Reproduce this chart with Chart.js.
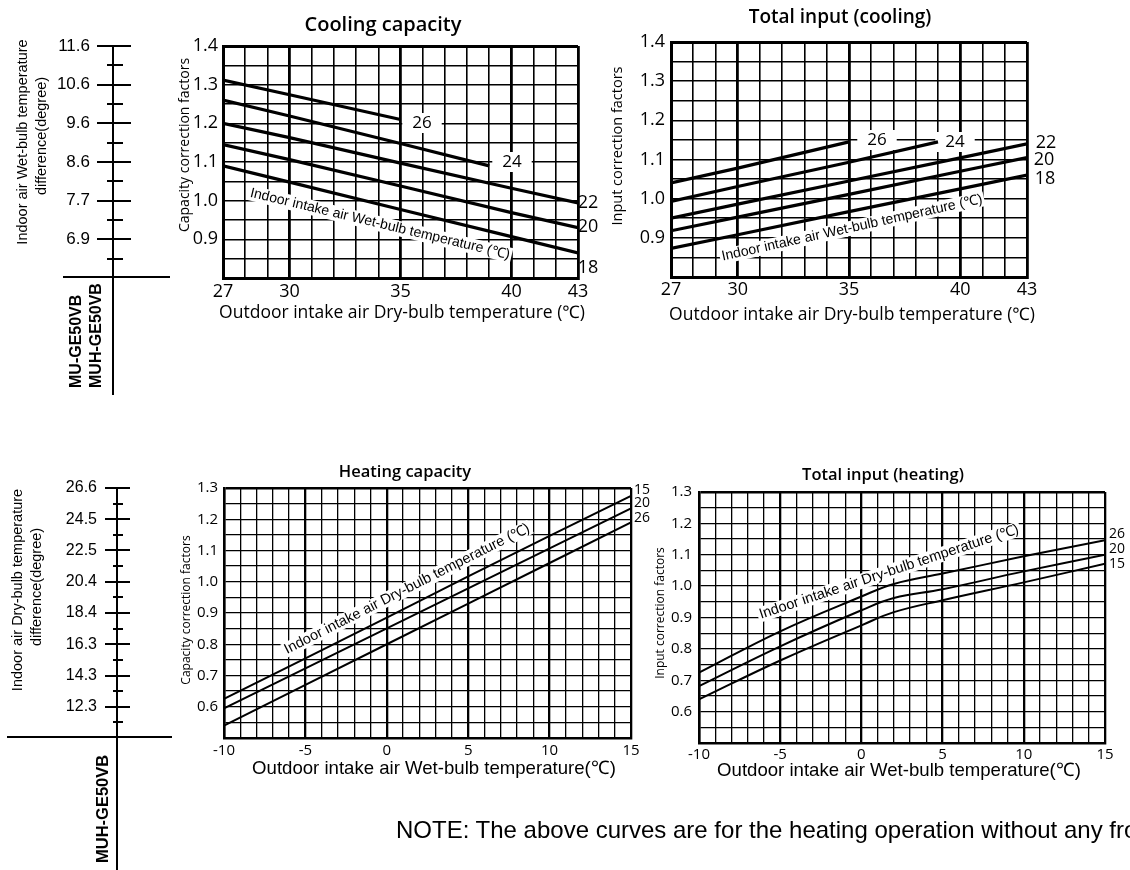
<!DOCTYPE html>
<html><head><meta charset="utf-8">
<script src="https://cdn.jsdelivr.net/npm/chart.js@4.4.1/dist/chart.umd.min.js"></script>
<style>
html,body{margin:0;padding:0;background:#fff;width:1130px;height:870px;overflow:hidden;position:relative}
canvas{position:absolute}
#note{position:absolute;left:396px;top:816px;font:24px "Liberation Sans",Arial,sans-serif;white-space:nowrap;color:#000}
</style></head><body>
<canvas id="c1" width="600" height="420" style="left:0;top:0"></canvas>
<canvas id="c2" width="530" height="340" style="left:600px;top:0"></canvas>
<canvas id="c3" width="660" height="430" style="left:0;top:440px"></canvas>
<canvas id="c4" width="490" height="360" style="left:640px;top:440px"></canvas>
<div id="note">NOTE: The above curves are for the heating operation without any fro</div>
<script>
// ---------- DATA ----------
// Cooling (outdoor dry-bulb, degC)
const coolX26 = [27, 30, 35];
const coolX24 = [27, 30, 35, 39];
const coolXFull = [27, 30, 35, 40, 43];
const coolXTickLabels = [27, 30, 35, 40, 43];
const coolYTickLabels = [0.9, 1.0, 1.1, 1.2, 1.3, 1.4];
const coolSeriesNames = ['26', '24', '22', '20', '18'];
// Cooling capacity correction factors
const capCool26 = [1.312, 1.274, 1.21];
const capCool24 = [1.26, 1.219, 1.148, 1.09];
const capCool22 = [1.20, 1.163, 1.097, 1.032, 0.994];
const capCool20 = [1.145, 1.106, 1.038, 0.969, 0.93];
const capCool18 = [1.09, 1.048, 0.977, 0.907, 0.865];
// Total input (cooling) correction factors
const inCool26 = [1.04, 1.078, 1.145];
const inCool24 = [0.993, 1.031, 1.093, 1.145];
const inCool22 = [0.95, 0.986, 1.045, 1.104, 1.14];
const inCool20 = [0.918, 0.953, 1.011, 1.07, 1.105];
const inCool18 = [0.873, 0.908, 0.967, 1.025, 1.06];
// Heating (outdoor wet-bulb, degC)
const heatX = [-10, -5, 0, 5, 10, 15];
const heatInX = [-10, -5, 0, 2, 5, 10, 15];
const heatXTickLabels = [-10, -5, 0, 5, 10, 15];
const heatYTickLabels = [0.6, 0.7, 0.8, 0.9, 1.0, 1.1, 1.2, 1.3];
const heatCapNames = ['15', '20', '26'];
const capHeat15 = [0.625, 0.755, 0.885, 1.017, 1.147, 1.275];
const capHeat20 = [0.595, 0.723, 0.851, 0.979, 1.107, 1.235];
const capHeat26 = [0.54, 0.67, 0.80, 0.93, 1.06, 1.19];
const heatInNames = ['26', '20', '15'];
const inHeat26 = [0.724, 0.856, 0.967, 1.007, 1.04, 1.095, 1.146];
const inHeat20 = [0.681, 0.808, 0.923, 0.962, 0.99, 1.047, 1.10];
const inHeat15 = [0.639, 0.763, 0.875, 0.917, 0.955, 1.012, 1.071];
// Temperature difference side scales
const coolDiffLabels = ['11.6', '10.6', '9.6', '8.6', '7.7', '6.9'];
const coolDiffAt = [1.4, 1.3, 1.2, 1.1, 1.0, 0.9];
const coolDiffMinorAt = [1.35, 1.25, 1.15, 1.05, 0.95, 0.85];
const heatDiffLabels = ['26.6', '24.5', '22.5', '20.4', '18.4', '16.3', '14.3', '12.3'];
const heatDiffAt = [1.3, 1.2, 1.1, 1.0, 0.9, 0.8, 0.7, 0.6];
const heatDiffMinorAt = [1.25, 1.15, 1.05, 0.95, 0.85, 0.75, 0.65, 0.55];

// ---------- HELPERS ----------
const FH = '"Open Sans", "Noto Sans", sans-serif';
const FA = '"Liberation Sans", Arial, sans-serif';
const pts = (xs, ys) => xs.map((x, i) => ({x: x, y: ys[i]}));
const r2 = v => Math.round(v * 100);

function drawText(ctx, it) {
  ctx.save();
  ctx.font = it.font;
  ctx.translate(it.x, it.y);
  if (it.rot) ctx.rotate(it.rot * Math.PI / 180);
  ctx.textAlign = it.align || 'center';
  ctx.textBaseline = 'middle';
  if (it.bg) {
    const w = ctx.measureText(it.t).width;
    const h = it.bgH || 16, px = it.bgPad || 3;
    const x0 = it.align === 'left' ? 0 : (it.align === 'right' ? -w : -w / 2);
    ctx.fillStyle = '#fff';
    ctx.fillRect(x0 - px, -h / 2, w + 2 * px, h);
  }
  ctx.fillStyle = '#000';
  ctx.fillText(it.t, 0, 0);
  ctx.restore();
}

function textPlugin(items, extra) {
  return {
    id: 'texts',
    beforeDatasetsDraw(chart) { items.filter(i => i.bg).forEach(i => drawText(chart.ctx, i)); },
    afterDraw(chart) {
      items.filter(i => !i.bg).forEach(i => drawText(chart.ctx, i));
      if (extra) extra(chart);
    }
  };
}

function diffScale(s) {
  return function (chart) {
    const ctx = chart.ctx, y = chart.scales.y;
    ctx.save();
    ctx.strokeStyle = '#000';
    ctx.lineWidth = 2;
    ctx.beginPath();
    ctx.moveTo(s.axisX, y.getPixelForValue(s.at[0]) - 1);
    ctx.lineTo(s.axisX, s.bottom);
    ctx.moveTo(s.baseX0, s.baseY);
    ctx.lineTo(s.baseX1, s.baseY);
    s.at.forEach(v => { const p = Math.round(y.getPixelForValue(v)); ctx.moveTo(s.majX0, p); ctx.lineTo(s.majX1, p); });
    s.minorAt.forEach(v => { const p = Math.round(y.getPixelForValue(v)); ctx.moveTo(s.minX0, p); ctx.lineTo(s.minX1, p); });
    ctx.stroke();
    ctx.restore();
    s.labels.forEach((t, i) => drawText(ctx, {t: t, x: s.labelX, y: y.getPixelForValue(s.at[i]), font: s.labelFont, align: 'right'}));
    s.texts.forEach(i => drawText(ctx, i));
  };
}

function opts(o) {
  return {
    responsive: false, animation: false, devicePixelRatio: 1, events: [],
    layout: {padding: o.pad, autoPadding: false},
    plugins: {legend: {display: false}, tooltip: {enabled: false}, title: {display: false}},
    elements: {point: {radius: 0}},
    scales: {
      x: {
        type: 'linear', min: o.xMin, max: o.xMax,
        ticks: {stepSize: 1, autoSkip: false, maxRotation: 0, minRotation: 0, padding: o.xPad, color: '#000',
          font: {family: FH, size: o.tick},
          callback: v => o.xLabels.includes(v) ? String(v) : ''},
        grid: {color: '#000', drawTicks: false,
          lineWidth: c => (c.tick && o.xMajor.includes(Math.round(c.tick.value))) ? o.thick : o.thin},
        border: {display: true, color: '#000', width: o.border},
        afterFit: s => { s.height = 30; }
      },
      y: {
        type: 'linear', min: o.yMin, max: o.yMax,
        ticks: {stepSize: 0.05, autoSkip: false, padding: o.yPad, color: '#000',
          font: {family: FH, size: o.tick},
          callback: v => o.yLabels.some(l => r2(l) === r2(v)) ? (r2(v) / 100).toFixed(1) : ''},
        grid: {color: '#000', drawTicks: false,
          lineWidth: c => (c.tick && r2(c.tick.value) === r2(o.yMax)) ? o.border : o.thin},
        border: {display: true, color: '#000', width: o.border},
        afterFit: s => { s.width = 40; }
      }
    }
  };
}

function ds(label, data, w, tension) {
  return {label: label, data: data, borderColor: '#000', borderWidth: w, fill: false, tension: tension || 0};
}

// ---------- CHART 1: Cooling capacity ----------
new Chart(document.getElementById('c1'), {
  type: 'line',
  data: {datasets: [
    ds(coolSeriesNames[0], pts(coolX26, capCool26), 3.2),
    ds(coolSeriesNames[1], pts(coolX24, capCool24), 3.2),
    ds(coolSeriesNames[2], pts(coolXFull, capCool22), 3.2),
    ds(coolSeriesNames[3], pts(coolXFull, capCool20), 3.2),
    ds(coolSeriesNames[4], pts(coolXFull, capCool18), 3.2)
  ]},
  options: opts({pad: {left: 183, right: 22, top: 46, bottom: 112}, xMin: 27, xMax: 43, yMin: 0.8, yMax: 1.4,
    xLabels: coolXTickLabels, yLabels: coolYTickLabels, xMajor: [27, 30, 35, 40, 43],
    thin: 1.6, thick: 2.8, border: 3, tick: 18, xPad: 3, yPad: 5}),
  plugins: [textPlugin([
    {t: 'Cooling capacity', x: 383, y: 25, font: '600 20px ' + FH},
    {t: 'Outdoor intake air Dry-bulb temperature (℃)', x: 402, y: 313, font: '17.5px ' + FH},
    {t: 'Capacity correction factors', x: 185, y: 145, rot: -90, font: '14px ' + FH},
    {t: 'Indoor intake air Wet-bulb temperature (℃)', x: 380, y: 224, rot: 13.5, font: '14px ' + FA, bg: true, bgH: 15, bgPad: 2},
    {t: coolSeriesNames[0], x: 422, y: 123, font: '17px ' + FH, bg: true, bgH: 20, bgPad: 10},
    {t: coolSeriesNames[1], x: 512, y: 162, font: '17px ' + FH, bg: true, bgH: 20, bgPad: 10},
    {t: coolSeriesNames[2], x: 588, y: 203, font: '18px ' + FH},
    {t: coolSeriesNames[3], x: 588, y: 227, font: '18px ' + FH},
    {t: coolSeriesNames[4], x: 588, y: 268, font: '18px ' + FH}
  ], diffScale({
    at: coolDiffAt, minorAt: coolDiffMinorAt, labels: coolDiffLabels,
    axisX: 113, bottom: 395, baseX0: 63, baseX1: 170, baseY: 277,
    majX0: 97, majX1: 131, minX0: 107, minX1: 123, labelX: 90, labelFont: '17px ' + FA,
    texts: [
      {t: 'Indoor air Wet-bulb temperature', x: 23, y: 142, rot: -90, font: '14.5px ' + FA},
      {t: 'difference(degree)', x: 42, y: 136, rot: -90, font: '14.5px ' + FA},
      {t: 'MU-GE50VB', x: 77, y: 388, rot: -90, align: 'left', font: 'bold 16px ' + FA},
      {t: 'MUH-GE50VB', x: 97, y: 388, rot: -90, align: 'left', font: 'bold 16px ' + FA}
    ]
  }))]
});

// ---------- CHART 2: Total input (cooling) ----------
new Chart(document.getElementById('c2'), {
  type: 'line',
  data: {datasets: [
    ds(coolSeriesNames[0], pts(coolX26, inCool26), 3.2),
    ds(coolSeriesNames[1], pts(coolX24, inCool24), 3.2),
    ds(coolSeriesNames[2], pts(coolXFull, inCool22), 3.2),
    ds(coolSeriesNames[3], pts(coolXFull, inCool20), 3.2),
    ds(coolSeriesNames[4], pts(coolXFull, inCool18), 3.2)
  ]},
  options: opts({pad: {left: 31, right: 103, top: 42, bottom: 33}, xMin: 27, xMax: 43, yMin: 0.8, yMax: 1.4,
    xLabels: coolXTickLabels, yLabels: coolYTickLabels, xMajor: [27, 30, 35, 40, 43],
    thin: 1.6, thick: 2.8, border: 3, tick: 18, xPad: 2, yPad: 6}),
  plugins: [textPlugin([
    {t: 'Total input (cooling)', x: 240, y: 18, font: '600 19px ' + FH},
    {t: 'Outdoor intake air Dry-bulb temperature (℃)', x: 252, y: 315, font: '17.5px ' + FH},
    {t: 'Input correction factors', x: 18, y: 146, rot: -90, font: '14.5px ' + FH},
    {t: 'Indoor intake air Wet-bulb temperature (℃)', x: 252, y: 228, rot: -12.5, font: '14px ' + FA, bg: true, bgH: 15, bgPad: 2},
    {t: coolSeriesNames[0], x: 277, y: 140, font: '17px ' + FH, bg: true, bgH: 20, bgPad: 10},
    {t: coolSeriesNames[1], x: 355, y: 142, font: '17px ' + FH, bg: true, bgH: 20, bgPad: 10},
    {t: coolSeriesNames[2], x: 446, y: 143, font: '18px ' + FH},
    {t: coolSeriesNames[3], x: 444, y: 160, font: '18px ' + FH},
    {t: coolSeriesNames[4], x: 445, y: 179, font: '18px ' + FH}
  ])]
});

// ---------- CHART 3: Heating capacity ----------
new Chart(document.getElementById('c3'), {
  type: 'line',
  data: {datasets: [
    ds(heatCapNames[0], pts(heatX, capHeat15), 2),
    ds(heatCapNames[1], pts(heatX, capHeat20), 2),
    ds(heatCapNames[2], pts(heatX, capHeat26), 2)
  ]},
  options: opts({pad: {left: 184, right: 29, top: 48, bottom: 102}, xMin: -10, xMax: 15, yMin: 0.5, yMax: 1.3,
    xLabels: heatXTickLabels, yLabels: heatYTickLabels, xMajor: [-10, -5, 0, 5, 10, 15],
    thin: 1.3, thick: 2.3, border: 2.5, tick: 15, xPad: 4, yPad: 6}),
  plugins: [textPlugin([
    {t: 'Heating capacity', x: 405, y: 32, font: '600 16.5px ' + FH},
    {t: 'Outdoor intake air Wet-bulb temperature(℃)', x: 434, y: 329, font: '18.6px ' + FA},
    {t: 'Capacity correction factors', x: 187, y: 170, rot: -90, font: '12px ' + FH},
    {t: 'Indoor intake air Dry-bulb temperature (℃)', x: 407, y: 149, rot: -26.8, font: '14.5px ' + FA, bg: true, bgH: 15, bgPad: 2},
    {t: heatCapNames[0], x: 642, y: 50, font: '14px ' + FH},
    {t: heatCapNames[1], x: 642, y: 63, font: '14px ' + FH},
    {t: heatCapNames[2], x: 642, y: 78, font: '14px ' + FH}
  ], diffScale({
    at: heatDiffAt, minorAt: heatDiffMinorAt, labels: heatDiffLabels,
    axisX: 117, bottom: 430, baseX0: 7, baseX1: 172, baseY: 297,
    majX0: 105, majX1: 130, minX0: 113, minX1: 123, labelX: 97, labelFont: '16px ' + FA,
    texts: [
      {t: 'Indoor air Dry-bulb temperature', x: 18, y: 150, rot: -90, font: '14.5px ' + FA},
      {t: 'difference(degree)', x: 37, y: 147, rot: -90, font: '14.5px ' + FA},
      {t: 'MUH-GE50VB', x: 103, y: 423, rot: -90, align: 'left', font: 'bold 16.5px ' + FA}
    ]
  }))]
});

// ---------- CHART 4: Total input (heating) ----------
new Chart(document.getElementById('c4'), {
  type: 'line',
  data: {datasets: [
    ds(heatInNames[0], pts(heatInX, inHeat26), 2, 0.4),
    ds(heatInNames[1], pts(heatInX, inHeat20), 2, 0.4),
    ds(heatInNames[2], pts(heatInX, inHeat15), 2, 0.4)
  ]},
  options: opts({pad: {left: 19, right: 25, top: 52, bottom: 27}, xMin: -10, xMax: 15, yMin: 0.5, yMax: 1.3,
    xLabels: heatXTickLabels, yLabels: heatYTickLabels, xMajor: [-10, -5, 0, 5, 10, 15],
    thin: 1.3, thick: 2.3, border: 2.5, tick: 15, xPad: 3, yPad: 7}),
  plugins: [textPlugin([
    {t: 'Total input (heating)', x: 243, y: 35, font: '600 16.5px ' + FH},
    {t: 'Outdoor intake air Wet-bulb temperature(℃)', x: 259, y: 331, font: '18.6px ' + FA},
    {t: 'Input correction factors', x: 21, y: 173, rot: -90, font: '12px ' + FH},
    {t: 'Indoor intake air Dry-bulb temperature (℃)', x: 249, y: 132, rot: -18.4, font: '14.5px ' + FA, bg: true, bgH: 15, bgPad: 2},
    {t: heatInNames[0], x: 477, y: 94, font: '14px ' + FH},
    {t: heatInNames[1], x: 477, y: 109, font: '14px ' + FH},
    {t: heatInNames[2], x: 477, y: 124, font: '14px ' + FH}
  ])]
});
</script>
</body></html>
